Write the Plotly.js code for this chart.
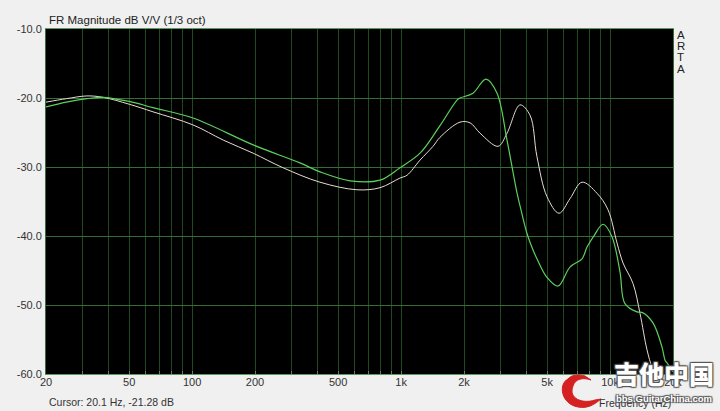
<!DOCTYPE html>
<html>
<head>
<meta charset="utf-8">
<script src="https://cdn.plot.ly/plotly-3.0.1.min.js"></script>
<style>
html,body{margin:0;padding:0;background:#f0f0f0;}
#chart{width:720px;height:411px;}
</style>
</head>
<body>
<div id="chart"></div>
<script>
// Green curve (frequency Hz, magnitude dB)
const greenFreq = [20, 25, 31.4, 37.5, 50, 65, 101, 196, 328, 409, 570, 793, 988, 1232, 1535, 1852, 1914, 2208, 2548, 2878, 3212, 3588, 3706, 4000, 4250, 4468, 4990, 5636, 6428, 7340, 7756, 8400, 9248, 10210, 11152, 11780, 13458, 14300, 16040, 17720, 18320, 18720, 20000];
const greenDb   = [-21.3, -20.6, -20.1, -19.9, -20.5, -21.4, -22.9, -26.8, -29.4, -30.7, -32.0, -31.9, -30.1, -28.0, -24.0, -20.3, -20.0, -19.3, -17.25, -19.3, -26.1, -33.8, -35.6, -39.6, -41.8, -43.3, -46.0, -47.25, -44.5, -43.3, -41.6, -39.9, -38.3, -40.1, -45.2, -49.8, -51.0, -51.1, -52.6, -56.1, -58.0, -58.4, -59.7];

// White curve
const whiteFreq = [20, 25, 31.4, 37.5, 50, 65, 101, 141, 196, 272, 409, 615, 793, 988, 1067, 1232, 1422, 1535, 1914, 2138, 2387, 2910, 3212, 3706, 4140, 4468, 4990, 5700, 6428, 7340, 8656, 9774, 10792, 11528, 12880, 13900, 15020, 15880, 16400, 17000];
const whiteDb   = [-20.6, -20.1, -19.7, -19.9, -20.9, -22.0, -23.9, -26.1, -28.0, -30.1, -32.2, -33.3, -33.0, -31.6, -31.2, -29.0, -27.0, -25.7, -23.5, -23.6, -25.1, -27.0, -25.1, -21.0, -22.5, -28.5, -34.3, -36.7, -34.6, -32.2, -33.8, -36.2, -41.0, -43.9, -46.9, -51.2, -56.5, -59.0, -59.7, -60.0];

// Axis ticks
const gridFreqs = [20,30,40,50,60,70,80,90,100,200,300,400,500,600,700,800,900,1000,2000,3000,4000,5000,6000,7000,8000,9000,10000,20000];
const labelMap = {20:'20',50:'50',100:'100',200:'200',500:'500',1000:'1k',2000:'2k',5000:'5k',10000:'10k',20000:'20k'};
const decadeFreqs = [100, 1000, 10000];
const yTicks = [-60, -50, -40, -30, -20, -10];

const fam = 'Liberation Sans, Arial, sans-serif';
const tickFont = {family: fam, size: 11, color: '#333'};

const traces = [
  {x: whiteFreq, y: whiteDb, type: 'scatter', mode: 'lines',
   line: {color: '#e6dcd2', width: 1, shape: 'spline', smoothing: 1}, hoverinfo: 'skip'},
  {x: greenFreq, y: greenDb, type: 'scatter', mode: 'lines',
   line: {color: '#5ccf5c', width: 1.2, shape: 'spline', smoothing: 1}, hoverinfo: 'skip'}
];

const outline = '1px 1px 1px #555, -1px -1px 1px #555, 1px -1px 1px #555, -1px 1px 1px #555';

const layout = {
  width: 720, height: 411,
  paper_bgcolor: '#f0f0f0',
  plot_bgcolor: '#000000',
  margin: {l: 46, r: 47, t: 29, b: 37},
  showlegend: false,
  font: tickFont,
  xaxis: {
    type: 'log',
    range: [Math.log10(20), Math.log10(20000)],
    tickvals: gridFreqs,
    ticktext: gridFreqs.map(f => labelMap[f] || ''),
    showgrid: true, gridcolor: '#1f4a1f', gridwidth: 1,
    ticks: 'inside', ticklen: 3, tickcolor: '#777',
    ticklabelstandoff: -2,
    showline: true, linecolor: '#5a9a5a', linewidth: 1, mirror: true,
    zeroline: false, fixedrange: true,
    tickfont: tickFont
  },
  xaxis2: {
    type: 'log', overlaying: 'x',
    range: [Math.log10(20), Math.log10(20000)],
    tickvals: decadeFreqs, showticklabels: false,
    showgrid: true, gridcolor: '#3a7a3a', gridwidth: 1,
    ticks: '', zeroline: false, showline: false
  },
  yaxis: {
    range: [-60, -10],
    tickvals: yTicks,
    ticktext: yTicks.map(v => v.toFixed(1)),
    showgrid: true, gridcolor: '#356e35', gridwidth: 1,
    showline: true, linecolor: '#3a6a3a', linewidth: 1, mirror: true,
    zeroline: false, fixedrange: true,
    ticks: '', ticklabelstandoff: 1,
    tickfont: tickFont
  },
  annotations: [
    {text: 'FR Magnitude dB V/V (1/3 oct)', xref: 'paper', yref: 'paper', x: 0, y: 1, xanchor: 'left', yanchor: 'bottom', xshift: 1, yshift: 1, showarrow: false, font: {family: fam, size: 11.5, color: '#222'}},
    {text: 'A', xref: 'paper', yref: 'paper', x: 1, y: 1, xanchor: 'left', yanchor: 'middle', xshift: 2, yshift: -6, showarrow: false, font: {family: fam, size: 11.5, color: '#222'}},
    {text: 'R', xref: 'paper', yref: 'paper', x: 1, y: 1, xanchor: 'left', yanchor: 'middle', xshift: 2, yshift: -17, showarrow: false, font: {family: fam, size: 11.5, color: '#222'}},
    {text: 'T', xref: 'paper', yref: 'paper', x: 1, y: 1, xanchor: 'left', yanchor: 'middle', xshift: 2, yshift: -28, showarrow: false, font: {family: fam, size: 11.5, color: '#222'}},
    {text: 'A', xref: 'paper', yref: 'paper', x: 1, y: 1, xanchor: 'left', yanchor: 'middle', xshift: 2, yshift: -40, showarrow: false, font: {family: fam, size: 11.5, color: '#222'}},
    {text: 'Cursor: 20.1 Hz, -21.28 dB', xref: 'paper', yref: 'paper', x: 0, y: 0, xanchor: 'left', yanchor: 'middle', xshift: 1, yshift: -28, showarrow: false, font: {family: fam, size: 10.5, color: '#333'}},
    {text: 'Frequency (Hz)', xref: 'paper', yref: 'paper', x: 1, y: 0, xanchor: 'right', yanchor: 'middle', yshift: -29, showarrow: false, font: {family: fam, size: 10.5, color: '#333'}},
    {text: '吉他中国', xref: 'paper', yref: 'paper', x: 1, y: 0, xanchor: 'left', yanchor: 'middle', xshift: -61, yshift: 1, showarrow: false, font: {family: 'Noto Sans CJK SC, sans-serif', size: 25, color: '#ffffff', weight: 900, shadow: outline}},
    {text: 'bbs.GuitarChina.com', xref: 'paper', yref: 'paper', x: 1, y: 0, xanchor: 'left', yanchor: 'middle', xshift: -59, yshift: -24, showarrow: false, font: {family: 'Liberation Sans, sans-serif', size: 9.5, color: '#ffffff', weight: 700, shadow: outline}}
  ],
  shapes: [
    {type: 'path', xref: 'paper', yref: 'paper', xsizemode: 'pixel', ysizemode: 'pixel', xanchor: 1, yanchor: 0,
     path: 'M -105 -5 C -115 -10, -112 -30, -95 -33 C -85 -35, -78 -30, -72 -25 L -78 -26 C -90 -30, -105 -25, -100 -12 C -98 -5, -90 -3, -82 -6 L -88 -2 C -95 0, -102 -1, -105 -5 Z',
     fillcolor: '#d42020', line: {color: '#d42020', width: 1}}
  ]
};

Plotly.newPlot('chart', traces, layout, {staticPlot: true, displayModeBar: false});
</script>
</body>
</html>
